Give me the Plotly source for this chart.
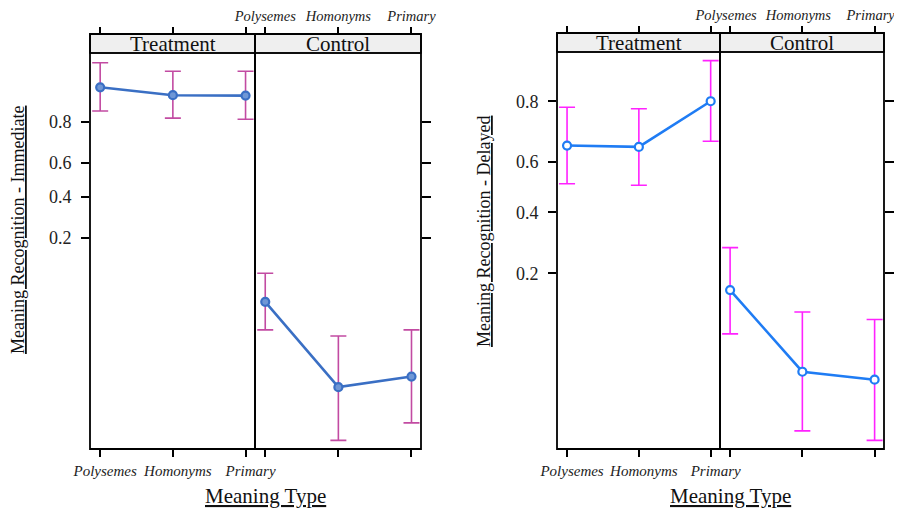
import numpy as np
import plotly.graph_objects as go

# ---------------- data ----------------
categories = ["Polysemes", "Homonyms", "Primary"]
groups = ["Treatment", "Control"]
ytick_probs = [0.2, 0.4, 0.6, 0.8]
ytick_labels = ["0.2", "0.4", "0.6", "0.8"]

# Immediate (left chart): estimate, lower, upper (probability scale)
imm_treat_fit = [0.902, 0.884, 0.883]
imm_treat_lo = [0.839, 0.815, 0.811]
imm_treat_hi = [0.943, 0.931, 0.931]
imm_ctrl_fit = [0.0515, 0.0070, 0.0090]
imm_ctrl_lo = [0.027, 0.00197, 0.00299]
imm_ctrl_hi = [0.097, 0.0234, 0.027]

# Delayed (right chart)
del_treat_fit = [0.662, 0.657, 0.800]
del_treat_lo = [0.514, 0.508, 0.677]
del_treat_hi = [0.784, 0.780, 0.885]
del_ctrl_fit = [0.160, 0.0486, 0.043]
del_ctrl_lo = [0.086, 0.0193, 0.0166]
del_ctrl_hi = [0.274, 0.118, 0.106]


def logit(p):
    p = np.asarray(p, dtype=float)
    return np.log(p / (1 - p))


OFF = 8  # page body margin
W, H = 902 - OFF, 512 - OFF
FONT = "Liberation Serif"


def fx(px):
    return (px - OFF) / W


def fy(py):
    return 1 - (py - OFF) / H


xpos = [0, 1, 2]
xrange_ = [-0.14, 2.13]
cat_text = [f"<i>{c}</i>" for c in categories]

fig = go.Figure()
layout = {}
shapes = []
annotations = []

charts = [
    dict(
        ax0=1,
        xl=90, xm=255, xr=421, st=34, sb=53, bot=449,
        yrange=[-6.435, 3.04],
        line="#3a6fc4", mfill="#6f97d6", err="#c24ba2",
        ytitle="Meaning Recognition - Immediate", ytx=18, yty=230, xtx=265,
        topshift=0,
        data=[(imm_treat_fit, imm_treat_lo, imm_treat_hi),
              (imm_ctrl_fit, imm_ctrl_lo, imm_ctrl_hi)],
    ),
    dict(
        ax0=5,
        xl=557, xm=720, xr=884, st=33, sb=52, bot=449,
        yrange=[-4.22, 2.18],
        line="#1f7cf4", mfill="#ffffff", err="#ff22ff",
        ytitle="Meaning Recognition - Delayed", ytx=484, yty=232, xtx=730,
        topshift=-4,
        data=[(del_treat_fit, del_treat_lo, del_treat_hi),
              (del_ctrl_fit, del_ctrl_lo, del_ctrl_hi)],
    ),
]

tick_common = dict(ticks="outside", tickcolor="black", tickwidth=1.5,
                   showgrid=False, zeroline=False, showline=False, automargin=False,
                   ticklabeloverflow="allow")

for ci, c in enumerate(charts):
    a = c["ax0"]
    yb = 1 + 2 * ci  # y axis index
    xn = {k: ("x" if a + k == 1 else f"x{a + k}") for k in range(4)}
    yn = {k: ("y" if yb + k == 1 else f"y{yb + k}") for k in range(2)}

    def xkey(k):
        return "xaxis" if a + k == 1 else f"xaxis{a + k}"

    def ykey(k):
        return "yaxis" if yb + k == 1 else f"yaxis{yb + k}"

    ydom = [fy(c["bot"]), fy(c["sb"])]
    doms = [[fx(c["xl"]), fx(c["xm"])], [fx(c["xm"]), fx(c["xr"])]]

    # bottom x axes
    for k in range(2):
        layout[xkey(k)] = dict(
            domain=doms[k], range=xrange_, anchor=yn[0],
            tickvals=xpos, ticktext=cat_text, ticklen=7,
            showticklabels=(k == 0),
            tickfont=dict(family=FONT, size=15, color="#222"),
            ticklabelstandoff=1, ticklabelshift=5,
            **tick_common)
    # top x axes (above the strips)
    for k in range(2):
        layout[xkey(k + 2)] = dict(
            overlaying=xn[k], range=xrange_, anchor="free",
            position=fy(c["st"]), side="top",
            tickvals=xpos, ticktext=cat_text, ticklen=7,
            showticklabels=(k == 1),
            tickfont=dict(family=FONT, size=14.5, color="#222"),
            ticklabelstandoff=0, ticklabelshift=c["topshift"],
            **tick_common)
    # y axes
    tv = logit(ytick_probs)
    layout[ykey(0)] = dict(
        domain=ydom, range=c["yrange"], anchor=xn[0], side="left",
        tickvals=tv, ticktext=ytick_labels, ticklen=8,
        tickfont=dict(family=FONT, size=18, color="#222"),
        ticklabelstandoff=6,
        **tick_common)
    layout[ykey(1)] = dict(
        overlaying=yn[0], range=c["yrange"], anchor="free",
        position=fx(c["xr"]), side="right",
        tickvals=tv, ticktext=ytick_labels, ticklen=9,
        showticklabels=False,
        **tick_common)

    # invisible traces so that overlay axes exist
    for xk, yk in [(xn[2], yn[0]), (xn[3], yn[0]), (xn[1], yn[1])]:
        fig.add_trace(go.Scatter(x=xpos, y=[c["yrange"][0]] * 3, xaxis=xk, yaxis=yk,
                                 mode="markers", marker=dict(opacity=0),
                                 hoverinfo="skip", showlegend=False))

    # data traces
    for k, (fit, lo, hi) in enumerate(c["data"]):
        lf, ll, lh = logit(fit), logit(lo), logit(hi)
        fig.add_trace(go.Scatter(
            x=xpos, y=lf, xaxis=xn[k], yaxis=yn[0], mode="lines+markers",
            line=dict(color=c["line"], width=2.6),
            marker=dict(symbol="circle", size=8, color=c["mfill"],
                        line=dict(color=c["line"], width=2.2)),
            error_y=dict(type="data", symmetric=False, array=lh - lf,
                         arrayminus=lf - ll, color=c["err"], thickness=1.6, width=8),
            showlegend=False, name=groups[k]))

    # frames and strips
    for k in range(2):
        x0, x1 = [c["xl"], c["xm"]][k], [c["xm"], c["xr"]][k]
        shapes.append(dict(type="rect", xref="paper", yref="paper",
                           x0=fx(x0), x1=fx(x1), y0=fy(c["sb"]), y1=fy(c["st"]),
                           fillcolor="#efefef", line=dict(color="black", width=1.6),
                           layer="below"))
        shapes.append(dict(type="rect", xref="paper", yref="paper",
                           x0=fx(x0), x1=fx(x1), y0=fy(c["bot"]), y1=fy(c["st"]),
                           line=dict(color="black", width=1.8)))
        shapes.append(dict(type="line", xref="paper", yref="paper",
                           x0=fx(x0), x1=fx(x1), y0=fy(c["sb"]), y1=fy(c["sb"]),
                           line=dict(color="black", width=1.6)))
        annotations.append(dict(xref="paper", yref="paper",
                                x=fx((x0 + x1) / 2), y=fy((c["st"] + c["sb"]) / 2 + 0.5),
                                text=groups[k], showarrow=False,
                                font=dict(family=FONT, size=21, color="#111"),
                                xanchor="center", yanchor="middle"))

    annotations.append(dict(xref="paper", yref="paper", x=fx(c["ytx"]), y=fy(c["yty"]),
                            text=f"<u>{c['ytitle']}</u>", textangle=-90, showarrow=False,
                            font=dict(family=FONT, size=18, color="#111"),
                            xanchor="center", yanchor="middle"))
    annotations.append(dict(xref="paper", yref="paper", x=fx(c["xtx"]), y=fy(496),
                            text="<u>Meaning Type</u>", showarrow=False,
                            font=dict(family=FONT, size=21, color="#111"),
                            xanchor="center", yanchor="middle"))

fig.update_layout(
    width=W, height=H, margin=dict(l=0, r=0, t=0, b=0, autoexpand=False),
    paper_bgcolor="white", plot_bgcolor="rgba(0,0,0,0)",
    showlegend=False, shapes=shapes, annotations=annotations,
    **layout)

fig.write_html("out.html")
